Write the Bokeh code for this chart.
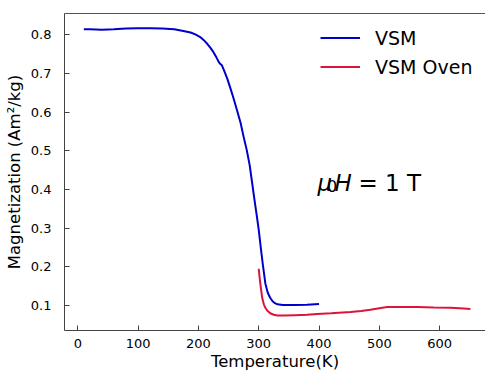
from bokeh.plotting import figure
from bokeh.models import Range1d, FixedTicker, LinearAxis, Legend, LegendItem, Label
from bokeh.embed import file_html
from bokeh.resources import INLINE

# ---- data ----
vsm_T = [10, 20, 40, 60, 80, 100, 120, 140, 160, 175, 187, 195, 203, 209, 215, 220, 225,
         230, 234, 236, 239, 243, 248, 253, 258, 264, 270, 275, 280, 285, 289, 293, 297,
         300, 304, 307, 311, 315, 319, 323, 327, 331, 340, 360, 380, 400]
vsm_M = [0.814, 0.814, 0.813, 0.814, 0.816, 0.817, 0.817, 0.816, 0.814, 0.810, 0.806, 0.801,
         0.794, 0.786, 0.776, 0.766, 0.755, 0.741, 0.729, 0.725, 0.721, 0.706, 0.686, 0.662,
         0.637, 0.605, 0.572, 0.536, 0.503, 0.463, 0.418, 0.373, 0.330, 0.296, 0.242, 0.204,
         0.157, 0.133, 0.120, 0.111, 0.106, 0.103, 0.101, 0.101, 0.102, 0.104]

oven_T = [300, 302, 304, 306, 308.5, 311, 314, 319, 325, 331, 340, 360, 380, 397, 420, 452,
          470, 485, 500, 513, 540, 563, 590, 618, 640, 651]
oven_M = [0.195, 0.165, 0.140, 0.118, 0.103, 0.094, 0.087, 0.080, 0.076, 0.074, 0.074, 0.075,
          0.076, 0.078, 0.080, 0.083, 0.086, 0.089, 0.093, 0.096, 0.096, 0.096, 0.095, 0.094,
          0.092, 0.091]

x_ticks = [0, 100, 200, 300, 400, 500, 600]
y_ticks = [0.1, 0.2, 0.3, 0.4, 0.5, 0.6, 0.7, 0.8]

FONT = "DejaVu Sans"

p = figure(width=485, height=374, output_backend="svg", toolbar_location=None,
           x_range=Range1d(-22, 676), y_range=Range1d(0.0353, 0.855),
           min_border_left=64, min_border_right=0, min_border_top=13, min_border_bottom=44)
p.background_fill_color = "white"
p.border_fill_color = "white"
p.outline_line_color = None
p.grid.visible = False

for ax in (p.xaxis[0], p.yaxis[0]):
    ax.axis_line_color = "#444444"
    ax.axis_line_width = 1
    ax.major_tick_in = 5
    ax.major_tick_out = 0
    ax.major_tick_line_color = "#444444"
    ax.minor_tick_line_color = None
    ax.major_label_text_font = FONT
    ax.major_label_text_font_size = "13px"
    ax.major_label_text_color = "black"
    ax.axis_label_text_font = FONT
    ax.axis_label_text_font_size = "16.5px"
    ax.axis_label_text_font_style = "normal"
    ax.axis_label_text_color = "black"

p.xaxis[0].ticker = FixedTicker(ticks=x_ticks)
p.yaxis[0].ticker = FixedTicker(ticks=y_ticks)
p.xaxis[0].axis_label = "Temperature(K)"
p.yaxis[0].axis_label = "Magnetization (Am\u00b2/kg)"
p.xaxis[0].major_label_standoff = 8
p.xaxis[0].axis_label_standoff = 1
p.yaxis[0].major_label_standoff = 13
p.yaxis[0].axis_label_standoff = 4

top = LinearAxis(ticker=FixedTicker(ticks=[]), axis_line_color="#555555",
                 major_tick_line_color=None, minor_tick_line_color=None,
                 major_label_text_font_size="0px")
p.add_layout(top, "above")

r1 = p.line(vsm_T, vsm_M, line_color="#0000CC", line_width=2)
r2 = p.line(oven_T, oven_M, line_color="#DC143C", line_width=2)

legend = Legend(items=[LegendItem(label="VSM", renderers=[r1]),
                       LegendItem(label="VSM Oven", renderers=[r2])],
                location=(256, 249), padding=0, margin=0, spacing=0,
                glyph_width=40, glyph_height=29, label_height=29, label_standoff=15,
                label_text_font=FONT, label_text_font_size="19px",
                label_text_color="black",
                border_line_color=None, background_fill_alpha=0)
p.add_layout(legend)

# mu_0 H = 1 T annotation, built from pieces (screen units relative to frame)
lab_kw = dict(x_units="screen", y_units="screen", text_font=FONT,
              text_color="black", text_baseline="alphabetic")
p.add_layout(Label(x=253, y=148, text="\u03bc", text_font_size="23px",
                   text_font_style="italic", **lab_kw))
p.add_layout(Label(x=262.5, y=145, text="0", text_font_size="16px", **lab_kw))
p.add_layout(Label(x=270, y=148, text="H", text_font_size="23px",
                   text_font_style="italic", **lab_kw))
p.add_layout(Label(x=294, y=148, text="= 1 T", text_font_size="23px", **lab_kw))

open("out.html", "w").write(file_html(p, INLINE))
